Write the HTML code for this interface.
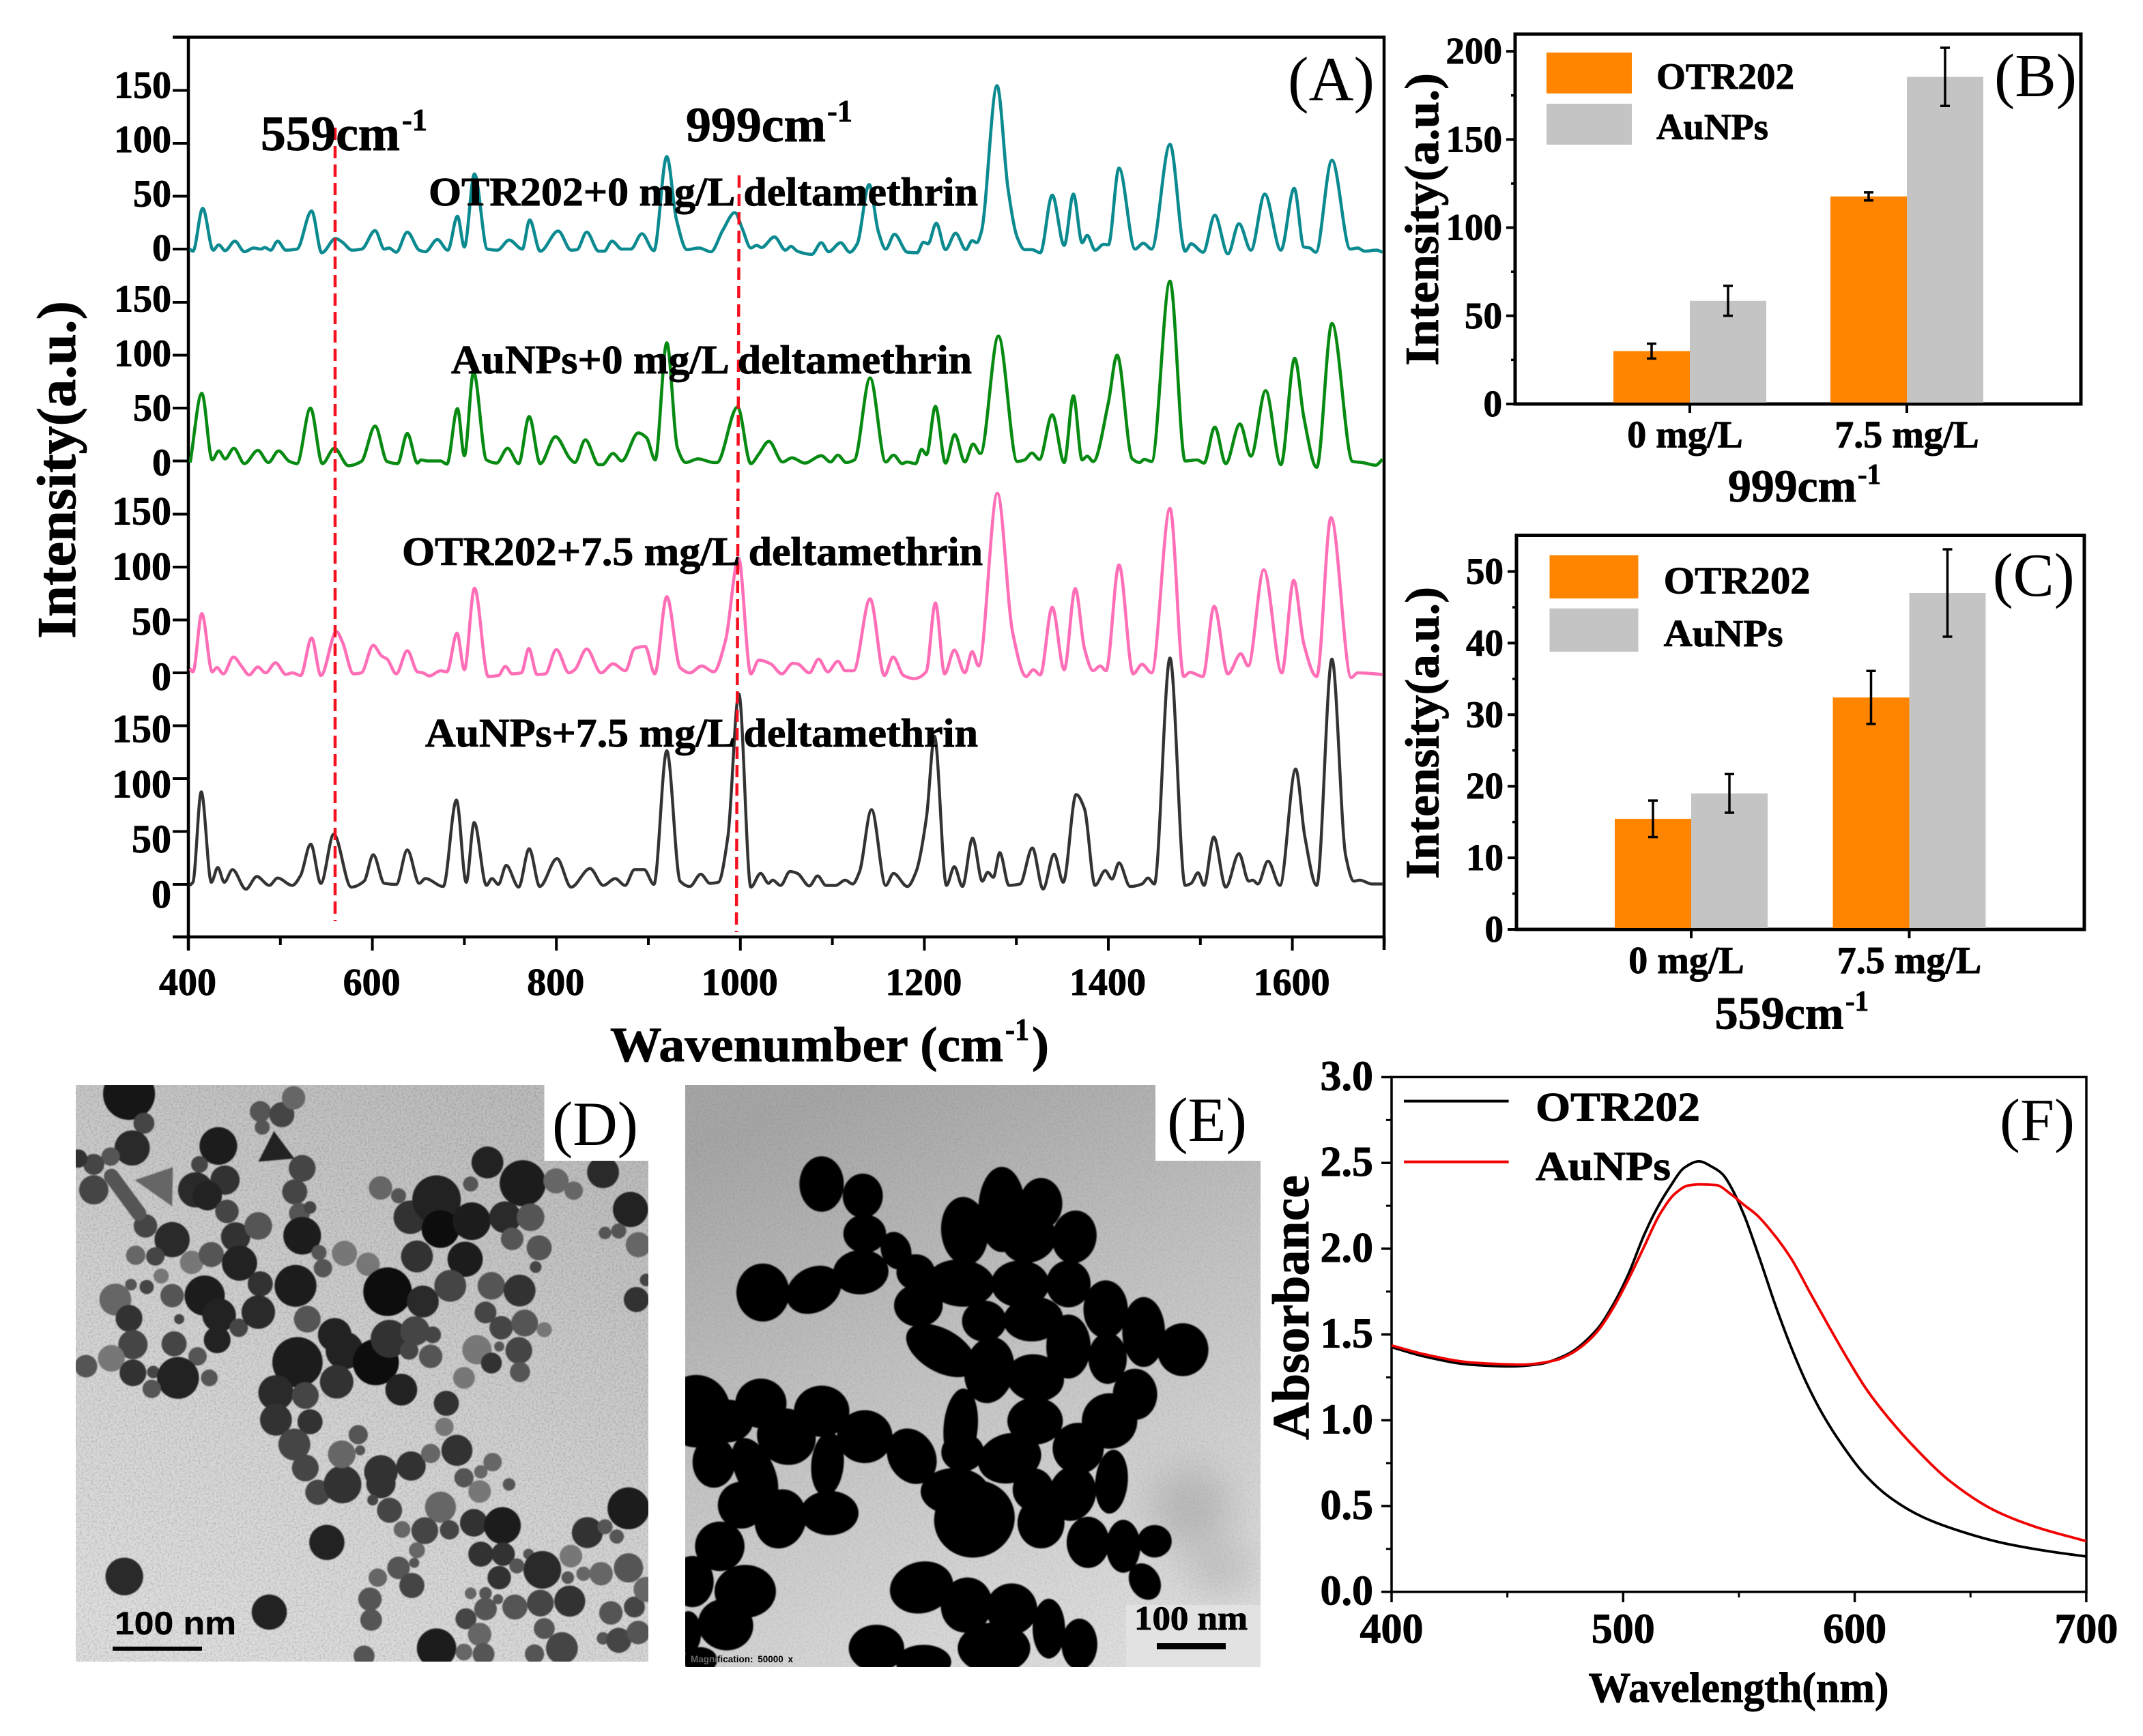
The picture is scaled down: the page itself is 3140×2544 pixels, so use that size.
<!DOCTYPE html>
<html lang="en">
<head>
<meta charset="utf-8">
<title>SERS spectra, intensity bars, TEM images and absorbance</title>
<style>
html,body{margin:0;padding:0;background:#fff;}
svg{display:block;}
text{font-family:"Liberation Serif","Noto Serif CJK SC",serif;fill:#000;}
.b{font-weight:bold;stroke:#000;stroke-width:0.9px;}
</style>
</head>
<body>
<svg id="fig" xmlns="http://www.w3.org/2000/svg" width="3140" height="2544" viewBox="0 0 3140 2544">
<defs>
<linearGradient id="bgD" x1="0.7" y1="0" x2="0.25" y2="1">
<stop offset="0" stop-color="#bcbcbc"/><stop offset="0.55" stop-color="#d2d2d2"/><stop offset="1" stop-color="#dedede"/>
</linearGradient>
<linearGradient id="bgE" x1="0.3" y1="0" x2="0.7" y2="1">
<stop offset="0" stop-color="#a6a6a6"/><stop offset="0.45" stop-color="#c2c2c2"/><stop offset="1" stop-color="#dedede"/>
</linearGradient>
<clipPath id="clipD"><path d="M111 1590H797.5V1701H950V2435H111Z"/></clipPath>
<clipPath id="clipE"><path d="M1004 1590H1693V1701H1847V2443H1004Z"/></clipPath>
<filter id="soft"><feGaussianBlur stdDeviation="1.6"/></filter>
<filter id="smudge" x="-200%" y="-200%" width="500%" height="500%"><feGaussianBlur stdDeviation="28"/></filter>
<filter id="grain" x="0" y="0" width="100%" height="100%">
<feTurbulence type="fractalNoise" baseFrequency="0.35" numOctaves="2" seed="4"/>
<feColorMatrix type="matrix" values="0 0 0 0 0  0 0 0 0 0  0 0 0 0 0  1.6 0 0 0 -0.65"/>
</filter>
</defs>

<!-- Panel D micrograph -->
<g clip-path="url(#clipD)">
<rect x="111" y="1590" width="839" height="845" fill="url(#bgD)"/>
<rect x="111" y="1590" width="839" height="845" filter="url(#grain)" opacity="0.2"/>
<g id="particlesDLayer" filter="url(#soft)"></g>
</g>
<rect x="165" y="2413" width="131" height="6" fill="#000"/>
<text class="b" x="168" y="2395" font-size="47" textLength="178" lengthAdjust="spacingAndGlyphs" style="font-family:'Liberation Sans',sans-serif;stroke-width:0.4px">100 nm</text>
<text x="809" y="1678" font-size="92" textLength="126" lengthAdjust="spacingAndGlyphs">(D)</text>

<!-- Panel E micrograph -->
<g clip-path="url(#clipE)">
<rect x="1004" y="1590" width="843" height="853" fill="url(#bgE)"/>
<rect x="1004" y="1590" width="843" height="853" filter="url(#grain)" opacity="0.1"/>
<ellipse cx="1745" cy="2210" rx="60" ry="60" fill="#8a8a8a" opacity="0.38" filter="url(#smudge)"/>
<ellipse cx="1790" cy="2300" rx="50" ry="35" fill="#8a8a8a" opacity="0.35" filter="url(#smudge)"/>
<g id="particlesELayer" filter="url(#soft)"></g>
<rect x="1650" y="2352" width="197" height="91" fill="#e2e2e2"/>
</g>
<rect x="1695" y="2408" width="101" height="9" fill="#000"/>
<text class="b" x="1662" y="2388" font-size="50" textLength="166" lengthAdjust="spacingAndGlyphs">100 nm</text>
<text x="1012" y="2436" font-size="13.5" style="font-family:'Liberation Sans',sans-serif;font-weight:bold;word-spacing:3px"><tspan style="fill:#6a6a6a">Magni</tspan>fication: 50000 x</text>
<text x="1710" y="1672" font-size="92" textLength="117" lengthAdjust="spacingAndGlyphs">(E)</text>

<!-- Panel A -->
<g id="panelA">
<g id="axesA"></g>
<g id="linesA"></g>
<line x1="491" y1="187" x2="491" y2="1350" stroke="#f5101f" stroke-width="4.5" stroke-dasharray="18 9"/>
<line x1="1083" y1="257" x2="1079" y2="1366" stroke="#f5101f" stroke-width="4.5" stroke-dasharray="18 9"/>
<text class="b" x="382" y="220" font-size="72" textLength="204" lengthAdjust="spacingAndGlyphs">559cm</text>
<text class="b" x="589" y="191" font-size="46" textLength="37" lengthAdjust="spacingAndGlyphs">-1</text>
<text class="b" x="1005" y="207" font-size="72" textLength="205" lengthAdjust="spacingAndGlyphs">999cm</text>
<text class="b" x="1212" y="178" font-size="46" textLength="37" lengthAdjust="spacingAndGlyphs">-1</text>
<text class="b" x="628" y="301" font-size="59" textLength="805" lengthAdjust="spacingAndGlyphs">OTR202+0 mg/L deltamethrin</text>
<text class="b" x="661" y="547" font-size="59" textLength="763" lengthAdjust="spacingAndGlyphs">AuNPs+0 mg/L deltamethrin</text>
<text class="b" x="589" y="828" font-size="59" textLength="851" lengthAdjust="spacingAndGlyphs">OTR202+7.5 mg/L deltamethrin</text>
<text class="b" x="623" y="1094" font-size="59" textLength="810" lengthAdjust="spacingAndGlyphs">AuNPs+7.5 mg/L deltamethrin</text>
<text x="1887" y="147" font-size="92" textLength="127" lengthAdjust="spacingAndGlyphs">(A)</text>
<text class="b" transform="translate(110,936) rotate(-90)" font-size="80" textLength="495" lengthAdjust="spacingAndGlyphs">Intensity(a.u.)</text>
<text class="b" x="894" y="1555" font-size="72" textLength="576" lengthAdjust="spacingAndGlyphs">Wavenumber (cm</text>
<text class="b" x="1473" y="1524" font-size="46" textLength="35" lengthAdjust="spacingAndGlyphs">-1</text>
<text class="b" x="1512" y="1555" font-size="72" textLength="25" lengthAdjust="spacingAndGlyphs">)</text>
</g>

<!-- Panel B -->
<g id="panelB">
<rect x="2266" y="77" width="125" height="60" fill="#ff8500"/>
<rect x="2266" y="152" width="125" height="60" fill="#c4c4c4"/>
<text class="b" x="2427" y="130" font-size="54" textLength="202" lengthAdjust="spacingAndGlyphs">OTR202</text>
<text class="b" x="2427" y="204" font-size="54" textLength="164" lengthAdjust="spacingAndGlyphs">AuNPs</text>
<text x="2922" y="141" font-size="90" textLength="121" lengthAdjust="spacingAndGlyphs">(B)</text>
<text class="b" transform="translate(2107,536) rotate(-90)" font-size="70" textLength="429" lengthAdjust="spacingAndGlyphs">Intensity(a.u.)</text>
<text class="b" x="2532" y="735" font-size="68" textLength="188" lengthAdjust="spacingAndGlyphs">999cm</text>
<text class="b" x="2722" y="709" font-size="42" textLength="34" lengthAdjust="spacingAndGlyphs">-1</text>
</g>

<!-- Panel C -->
<g id="panelC">
<rect x="2270.5" y="813.6" width="130" height="63.4" fill="#ff8500"/>
<rect x="2270.5" y="891.6" width="130" height="63.4" fill="#c4c4c4"/>
<text class="b" x="2437.6" y="869.7" font-size="56" textLength="215" lengthAdjust="spacingAndGlyphs">OTR202</text>
<text class="b" x="2437.6" y="947" font-size="56" textLength="175" lengthAdjust="spacingAndGlyphs">AuNPs</text>
<text x="2919.7" y="873" font-size="90" textLength="120" lengthAdjust="spacingAndGlyphs">(C)</text>
<text class="b" transform="translate(2107.6,1288) rotate(-90)" font-size="70" textLength="428" lengthAdjust="spacingAndGlyphs">Intensity(a.u.)</text>
<text class="b" x="2512.6" y="1507.5" font-size="68" textLength="189" lengthAdjust="spacingAndGlyphs">559cm</text>
<text class="b" x="2704" y="1481" font-size="42" textLength="34" lengthAdjust="spacingAndGlyphs">-1</text>
</g>

<!-- Panel F -->
<g id="panelF">
<line x1="2057" y1="1613.6" x2="2210.6" y2="1613.6" stroke="#000" stroke-width="4"/>
<line x1="2057" y1="1702.6" x2="2210.6" y2="1702.6" stroke="#f00000" stroke-width="4"/>
<text class="b" x="2250" y="1642.4" font-size="60" textLength="241" lengthAdjust="spacingAndGlyphs">OTR202</text>
<text class="b" x="2250" y="1729" font-size="60" textLength="198" lengthAdjust="spacingAndGlyphs">AuNPs</text>
<text x="2930" y="1671" font-size="88" textLength="110" lengthAdjust="spacingAndGlyphs">(F)</text>
<text class="b" transform="translate(1917,2110) rotate(-90)" font-size="76" textLength="388" lengthAdjust="spacingAndGlyphs">Absorbance</text>
<text class="b" x="2327.5" y="2494" font-size="62" textLength="440" lengthAdjust="spacingAndGlyphs">Wavelength(nm)</text>
</g>
</svg>

<script>
// ---------- Panel A data ----------
const xTicksA = [400, 600, 800, 1000, 1200, 1400, 1600];
const xMinorTicksA = [500, 700, 900, 1100, 1300, 1500, 1700];
const yTicksA = [0, 50, 100, 150];

const tealWavenumber = [401.5,405,415.6,427,433,440,450.5,461,471,479,483,489.5,497,506,518,534,545,560,567.5,578,588.4,603,613,618,626,638,651,657.6,670.6,682,692.5,700,711,725,736,748.7,763,771,782.5,802,816,822.5,833,846,852,860.5,871,881,893,906,920,930.5,942,955,968,981,994,1002,1011.4,1017.7,1023,1037,1049,1055,1062,1077.5,1088,1096,1109,1119,1127,1140,1150,1158,1167.5,1181.6,1192,1199,1204,1213,1223,1234,1245,1252,1257,1262,1279,1291,1301,1309,1317,1326,1339,1352,1362,1371.5,1377,1385.6,1395,1400,1411.6,1429,1438,1447,1467,1483.5,1490,1503,1515.7,1530,1542,1555,1570,1587.5,1602,1612.5,1619,1625.5,1643,1663,1671,1678.6,1691.5,1698];
const tealIntensity = [0,-2,38.5,-1,4,-1.5,7.5,-2.5,1,0,1.5,-1,7.5,-1,0,36,-3.5,10,6.5,-1,0,17.5,0,1,-3,16,-1,-2.5,9,-1,31,2,71,0,-1,8.5,0,27.5,-2,17,-1,-0.5,16,-2,-2,7.5,0,0,14.5,-1.5,87.5,28,-0.5,1,-2.5,18,34.5,19.5,1,3.5,1.5,11.5,-1,2.5,-2,-5,6,-2.5,6,-3,5,61,16.5,0,14,-3,-3.5,6.5,5,24.5,-0.5,15,-0.5,8,6,16.5,154.5,56.5,11,-0.5,-0.5,-3.5,51,3.5,52,6,13,-1,4.5,4,76.5,0,5.5,0,99,-2,5,-3,32,-4.5,24,-1,52,-1,57.5,2,1,-3,84,0,1,-2,-1,-3];

const greenWavenumber = [402,414.6,426,433,440,449.4,461,475.5,487,498,510,518,532.7,545.7,558.7,574,588,603,616,627.4,638,649,653,660,674,681,692.5,700,710,724,735,747,759,770.5,782.5,799,815,820,831.5,846,850,861.6,871,889,898,907.4,920,931.7,940.7,954,971,974.5,997,1011.4,1020,1031,1046,1056,1070,1088,1098,1106,1115,1124,1141,1158,1166.5,1176,1181,1190.5,1197,1202.4,1212,1223,1233,1244,1253,1261,1280.5,1301,1309,1317,1325,1339,1352,1362,1371.5,1377,1383.5,1400,1409.5,1426,1434,1439,1447,1467,1483.5,1496.4,1504,1515.7,1527.6,1543,1555,1571,1587.5,1602.6,1612.5,1626.5,1643,1665.5,1676,1690.5,1698];
const greenIntensity = [-1.5,64,1,9.5,2,12,-2.5,10,-1.5,9.5,-0.5,-2.5,50,-2.5,12,-4.5,-0.5,33,-0.5,-2.5,26,-2,1,0,0,-3,49.5,5,84,1,-2,12,-2.5,42,-2.5,23,2,-1.5,20,-3.5,-3.5,7,0,26.5,22,1,111.7,12,-1.5,2,-1.5,-1.5,51,-2.5,6.5,18.5,-1,3,-2,5,-1,5.5,-1.5,1,78.5,-1,5.5,-2.5,-1,-2.5,11,6,51.7,-2,25,-1,16,7,118,-0.5,1,7.5,1.5,43.7,-1.5,61.5,1,4.5,-0.5,55,100,2,-1.5,1.5,-0.5,170,0,1,-2,32,-2.5,35,4.5,66.5,-3.5,97,41,-6,130,-0.5,-1.5,-4,1.5];

const pinkWavenumber = [401.5,405,414.6,426,431,438,449,458,466,475.5,484,494.7,506,513,522,534,544,561,567.5,579.5,588,601,610,616,626,638,649,655,662,674,681,692,700,711,726,737,744.5,752,762,770,779,788,800,813.7,820,833,848.6,861.6,875,885,896.5,907,920,934.5,945,958,971,984,998,1011.4,1020,1033,1045,1057,1062,1075,1085,1095,1106,1114,1123,1141,1156.6,1166,1177.4,1189,1202,1212,1222,1232.6,1244,1252,1259,1279.4,1296,1310.6,1318.5,1326,1339,1352,1364,1374,1383.5,1391,1397.5,1411.6,1427,1436.6,1447,1467,1482,1488.6,1502.7,1515,1530,1544,1552,1569,1588.5,1601.5,1612.5,1626.5,1642,1664,1671,1698];
const pinkIntensity = [4,1,56,1,5,-1,15,6,-2,5.5,0,9.5,-1.5,0,-2.5,33,-2.5,39,29,-1,0,26,16,13,-1,21,1,0,-3,2,1,37.5,3,80,-3.5,-2.5,6,-1,0,23,-1.5,-1,22,0,3,22.5,0,8.5,2,23,25,-1,72,5,0,6.5,1,31,108.5,-1,12,8.5,-1,9,8.5,0,13,1,11,2,2,70,-2.5,15,-2.5,-5.5,1,66,-1,21.5,0,20,6.5,169.6,38,-3.5,3,-2,62,3,79.6,23,2,6.5,2,102,-1,8,0,155.5,-3.5,0.5,-3.5,63,-1,18,6.5,97.4,0,87.5,27,-3.5,146.7,-4.5,0,-1.5];

const darkWavenumber = [401.5,405,414,425,432,439,448,462.5,474.4,488,497,513,522,533,544,558,577,591,601,613,626,638,651,657.6,677,691.4,702,710.7,724,730,737,745.5,759,770.5,782,800.7,816,836.6,851,864,874.6,885,895.4,906,920,934.5,945,957,967,976,986.5,998.4,1011.4,1022,1030.7,1035,1043.7,1054,1062,1075,1084,1093,1103.5,1114,1122,1129.5,1142.6,1158,1166.5,1181.6,1191,1202.4,1211,1224,1232.6,1241.4,1252.4,1263,1269,1275,1282,1292,1304,1317.4,1329,1341,1351,1365,1374,1385.6,1396.5,1404,1411.6,1423.6,1436.6,1443,1450,1467,1483.5,1490,1497.5,1504,1514.6,1527.6,1542,1552.6,1557,1562.5,1573.5,1586.5,1603.6,1613.5,1626.5,1643,1658,1667,1673.4,1686.4,1698];
const darkIntensity = [-1,2,87.4,2,16,2,14,-4.5,7.4,-1,6,-1,8.5,38,1,47.4,-2.6,3,28,1,0,32.6,1,5.5,-2,79.6,2,58.5,-1,5.5,0,18,-2.6,33.7,-2,24.4,-2.6,15,-1,5.5,-1,14,14,0,126.3,3,-2,9.6,1,2,45.5,180,-2.6,10.4,1,4,-1,12.2,10.4,-1.5,8,-1,-1,4,0.4,12,70.7,-1,10.4,-2,12,64,140,-1,16.7,-2,43.7,3,11.5,6.7,30,-1,0.4,34.4,-4.4,28.5,2,85,71.5,-1,13,5,20.4,-2,0.4,6,0.4,214,-1,1,11,-1,44.8,-2.6,29,3,4,0.4,22,-1,109,45.5,-1,213,27,3,4,0.4,0.4];

// ---------- Panel B / C data ----------
const barCategories = ['0 mg/L', '7.5 mg/L'];
const otr999 = [30, 117.7];
const otr999Err = [4.2, 2.3];
const au999 = [58.5, 185.5];
const au999Err = [8.5, 16.5];
const yTicksB = [0, 50, 100, 150, 200];
const yMinorTicksB = [25, 75, 125, 175];

const otr559 = [15.45, 32.4];
const otr559Err = [2.55, 3.7];
const au559 = [19, 47];
const au559Err = [2.7, 6.1];
const yTicksC = [0, 10, 20, 30, 40, 50];
const yMinorTicksC = [5, 15, 25, 35, 45];

// ---------- Panel F data ----------
const xTicksF = [400, 500, 600, 700];
const xMinorTicksF = [450, 550, 650];
const yTicksF = [0, 0.5, 1, 1.5, 2, 2.5, 3];
const yMinorTicksF = [0.25, 0.75, 1.25, 1.75, 2.25, 2.75];
const otrWavelength = [400,414.7,434.2,451.3,463.5,475.7,488.7,495.5,502.2,509,514.4,519.8,526.6,532.7,538.8,542.8,546.9,552.3,559,565.8,572.6,579.4,586.1,594.3,603.7,614.6,629.5,644.3,664.6,684.9,700];
const otrAbsorbance = [1.426,1.37,1.324,1.314,1.327,1.383,1.53,1.67,1.85,2.078,2.23,2.352,2.474,2.509,2.474,2.436,2.352,2.193,1.94,1.668,1.424,1.211,1.036,0.861,0.693,0.556,0.435,0.359,0.283,0.234,0.206];
const auWavelength = [400,414.7,434.2,456.2,470.9,477,483,488.7,495.5,502.2,509,515.8,522.5,528,532.7,540.1,546.9,552.3,557.7,565.8,572.6,580.7,588.9,597,605.1,614.6,626.7,641.6,660.6,678.2,700];
const auAbsorbance = [1.436,1.383,1.337,1.324,1.35,1.385,1.44,1.515,1.65,1.82,2.01,2.2,2.322,2.368,2.375,2.371,2.314,2.254,2.197,2.071,1.942,1.744,1.546,1.356,1.18,1.013,0.83,0.64,0.473,0.378,0.295];

// ---------- Micrograph particles (image texture, zoom-space coordinates) ----------
const particlesD = [[190,75,62,'#151515'],[228,150,25,'#444'],[198,213,42,'#2a2a2a'],[143,235,22,'#555'],[100,255,25,'#444'],[60,240,22,'#333'],[100,320,35,'#444'],[418,208,45,'#1c1c1c'],[370,255,20,'#444'],[525,120,25,'#555'],[580,128,30,'#444'],[610,85,28,'#666'],[530,160,18,'#555'],[632,265,32,'#444'],[613,325,30,'#444'],[435,295,35,'#333'],[360,320,42,'#2a2a2a'],[390,335,35,'#222'],[440,375,28,'#444'],[625,380,25,'#555'],[652,365,15,'#444'],[232,412,28,'#444'],[300,447,42,'#2a2a2a'],[207,487,23,'#666'],[257,490,22,'#444'],[350,505,28,'#777'],[400,485,30,'#555'],[462,440,35,'#333'],[520,412,33,'#555'],[632,437,45,'#1e1e1e'],[472,507,42,'#222'],[675,480,18,'#555'],[740,482,30,'#777'],[685,520,22,'#555'],[800,510,28,'#777'],[615,565,50,'#1c1c1c'],[525,560,30,'#333'],[383,590,48,'#1e1e1e'],[300,590,28,'#555'],[235,568,17,'#444'],[272,540,18,'#777'],[195,562,14,'#555'],[155,600,38,'#666'],[190,648,32,'#333'],[420,640,40,'#222'],[470,672,22,'#444'],[520,632,40,'#2a2a2a'],[318,650,12,'#444'],[200,715,35,'#444'],[305,713,30,'#444'],[415,703,32,'#222'],[365,745,22,'#555'],[145,750,32,'#777'],[80,770,27,'#555'],[200,787,32,'#333'],[252,785,15,'#444'],[315,800,50,'#222'],[248,828,22,'#555'],[395,800,20,'#555'],[645,650,32,'#555'],[850,580,58,'#111'],[940,605,38,'#2a2a2a'],[715,690,40,'#222'],[740,730,45,'#222'],[620,760,60,'#1a1a1a'],[820,760,55,'#111'],[855,700,45,'#333'],[920,680,35,'#444'],[965,690,20,'#444'],[905,730,22,'#444'],[960,745,28,'#555'],[885,830,38,'#222'],[720,810,40,'#333'],[565,838,42,'#2a2a2a'],[640,845,32,'#444'],[565,907,38,'#333'],[652,912,30,'#333'],[612,970,38,'#444'],[640,1030,32,'#444'],[672,1092,30,'#444'],[735,1072,45,'#333'],[832,315,28,'#666'],[878,335,18,'#555'],[908,390,40,'#333'],[975,345,58,'#222'],[985,420,45,'#111'],[1065,400,45,'#1a1a1a'],[1062,305,18,'#555'],[1105,250,38,'#222'],[1195,303,55,'#1a1a1a'],[1150,390,38,'#2a2a2a'],[1215,390,33,'#555'],[1168,445,27,'#555'],[1237,468,30,'#555'],[1228,517,14,'#444'],[925,490,38,'#333'],[1048,497,42,'#1e1e1e'],[1010,565,38,'#444'],[1115,565,33,'#555'],[1187,577,38,'#333'],[1100,633,26,'#444'],[1140,672,28,'#444'],[1200,660,32,'#555'],[1250,677,18,'#777'],[1078,728,35,'#777'],[1115,762,25,'#333'],[1185,730,32,'#444'],[1188,785,24,'#555'],[1045,800,26,'#777'],[1135,720,12,'#555'],[1280,297,30,'#666'],[1325,322,22,'#666'],[1400,275,38,'#2a2a2a'],[1470,370,42,'#222'],[1405,430,15,'#555'],[1440,425,18,'#555'],[1490,460,30,'#666'],[1485,600,30,'#333'],[1510,550,15,'#444'],[1000,865,30,'#333'],[995,925,22,'#777'],[775,945,23,'#555'],[733,995,33,'#666'],[780,985,12,'#555'],[833,1040,40,'#333'],[833,1070,35,'#333'],[910,1025,35,'#333'],[960,993,23,'#666'],[1027,985,37,'#333'],[1045,1055,23,'#555'],[1088,1040,16,'#666'],[1118,1015,22,'#666'],[1085,1090,27,'#777'],[1160,1072,15,'#555'],[812,1112,13,'#444'],[855,1138,30,'#444'],[985,1130,37,'#666'],[1070,1170,33,'#333'],[1143,1177,44,'#1a1a1a'],[945,1190,32,'#444'],[1008,1188,23,'#444'],[887,1187,20,'#666'],[925,1240,19,'#666'],[695,1220,42,'#222'],[178,1307,45,'#2a2a2a'],[548,1398,42,'#222'],[1465,1133,50,'#1c1c1c'],[1360,1195,37,'#333'],[1405,1180,18,'#555'],[1435,1205,17,'#555'],[1088,1250,30,'#333'],[1145,1250,28,'#333'],[1210,1250,13,'#555'],[1245,1290,45,'#2a2a2a'],[1180,1280,18,'#555'],[1318,1255,27,'#777'],[1395,1300,28,'#666'],[1465,1285,35,'#555'],[1350,1300,17,'#666'],[1135,1310,28,'#333'],[1310,1310,15,'#555'],[878,1285,27,'#555'],[918,1272,12,'#555'],[825,1310,22,'#666'],[912,1330,30,'#444'],[805,1365,28,'#555'],[808,1418,26,'#555'],[1062,1350,14,'#666'],[1100,1350,15,'#555'],[1132,1365,12,'#555'],[1100,1390,27,'#555'],[1175,1385,30,'#555'],[1240,1375,32,'#444'],[1315,1370,37,'#333'],[1420,1400,28,'#555'],[1480,1385,25,'#444'],[1050,1415,25,'#444'],[1085,1455,28,'#666'],[1250,1440,25,'#555'],[975,1490,47,'#1e1e1e'],[1045,1500,20,'#666'],[1095,1505,26,'#555'],[790,1510,25,'#555'],[1295,1490,38,'#444'],[1225,1505,23,'#555'],[1400,1465,15,'#555'],[1440,1470,30,'#444'],[1490,1450,28,'#555'],[1510,1340,30,'#666']];
const particlesE = [[390,305,52,65,0],[495,335,47,52,0],[500,432,50,45,0],[490,530,65,52,-5],[240,582,62,68,0],[370,575,68,52,-30],[580,475,35,45,-20],[630,530,45,42,0],[745,558,80,55,5],[637,615,57,50,0],[755,425,55,80,-5],[850,370,55,100,0],[950,355,50,60,0],[920,445,65,55,-20],[1035,440,52,62,10],[897,560,68,55,0],[1020,560,52,55,0],[805,655,52,48,0],[930,650,70,52,-5],[1115,625,52,68,0],[1020,720,52,75,0],[1212,683,50,82,0],[1120,750,45,60,0],[1312,728,60,62,0],[695,730,90,50,30],[818,780,58,78,10],[935,800,68,55,10],[1190,842,52,60,0],[1125,910,65,65,20],[935,910,65,55,0],[745,925,40,90,5],[870,1005,75,58,-15],[1045,980,60,60,0],[1130,1065,38,75,5],[750,990,50,45,0],[930,1085,48,50,0],[1030,1095,55,65,15],[730,1090,80,55,0],[780,1160,95,90,-20],[950,1170,55,60,0],[1070,1220,50,60,0],[1160,1230,40,62,0],[1240,1217,40,38,0],[1215,1320,35,45,-30],[70,885,80,85,0],[150,910,60,50,0],[235,865,60,58,0],[300,950,70,65,30],[390,885,65,60,0],[115,1015,50,60,0],[220,1040,45,85,-25],[405,1020,38,75,5],[500,950,65,62,0],[620,1000,55,68,-30],[185,1125,55,55,0],[285,1160,60,70,15],[410,1145,68,52,0],[130,1230,58,58,0],[195,1345,72,62,0],[60,1320,50,60,0],[145,1430,65,60,15],[50,1450,30,50,0],[80,1520,40,30,0],[645,1335,75,60,-15],[760,1380,60,65,15],[875,1390,60,60,0],[970,1440,38,70,0],[1048,1480,42,60,0],[830,1490,85,60,0],[530,1490,65,55,0],[650,1525,65,40,0]];

// ---------- Helpers ----------
const NS = 'http://www.w3.org/2000/svg';
function make(parent, tag, attrs, content) {
  const el = document.createElementNS(NS, tag);
  for (const k in attrs) el.setAttribute(k, attrs[k]);
  if (content !== undefined) el.textContent = content;
  parent.appendChild(el);
  return el;
}
// Monotone cubic through the read points, so peaks stay at their read height.
function curvePath(xs, ys) {
  const n = Math.min(xs.length, ys.length);
  const dx = [], m = [], t = [];
  for (let i = 0; i < n - 1; i++) { dx[i] = xs[i+1] - xs[i]; m[i] = (ys[i+1] - ys[i]) / dx[i]; }
  t[0] = m[0]; t[n-1] = m[n-2];
  for (let i = 1; i < n - 1; i++) {
    if (m[i-1] * m[i] <= 0) t[i] = 0;
    else {
      const a = dx[i-1] + 2 * dx[i], b = 2 * dx[i-1] + dx[i];
      t[i] = (a + b) / (a / m[i-1] + b / m[i]);
    }
  }
  let d = 'M' + xs[0].toFixed(1) + ' ' + ys[0].toFixed(1);
  for (let i = 0; i < n - 1; i++) {
    const h = dx[i] / 3;
    d += 'C' + (xs[i] + h).toFixed(1) + ' ' + (ys[i] + t[i] * h).toFixed(1) + ' ' +
         (xs[i+1] - h).toFixed(1) + ' ' + (ys[i+1] - t[i+1] * h).toFixed(1) + ' ' +
         xs[i+1].toFixed(1) + ' ' + ys[i+1].toFixed(1);
  }
  return d;
}

// ---------- Panel A ----------
const axesA = document.getElementById('axesA');
const linesA = document.getElementById('linesA');
function xA(w) { return 276 + (w - 400) * 1.348; }
const zeroA = [365, 675.5, 986, 1296];
const labelShiftA = [[17, 0.04], [21, 0.05], [25, 0.067], [34, 0.067]];
function yA(row, v) { return zeroA[row] - v * 1.55; }

const frameA = make(axesA, 'path', {d: 'M253 54.5H2028V1373H253M276 54.5V1392M2028 54.5V1392', fill: 'none', stroke: '#000', 'stroke-width': 4.5});



xTicksA.forEach(function (w) {
  const tick = make(axesA, 'line', {x1: xA(w), x2: xA(w), y1: 1373, y2: 1393, stroke: '#000', 'stroke-width': 4});
  
  
  const label = make(axesA, 'text', {class: 'b', x: xA(w) - 1, y: 1458, 'font-size': 56, 'text-anchor': 'middle'}, String(w));
  
  
});
xMinorTicksA.forEach(function (w) {
  const tick = make(axesA, 'line', {x1: xA(w), x2: xA(w), y1: 1373, y2: 1385, stroke: '#000', 'stroke-width': 4});
  
  
});
zeroA.forEach(function (z, row) {
  yTicksA.forEach(function (v) {
    const tick = make(axesA, 'line', {x1: 253, x2: 276, y1: yA(row, v), y2: yA(row, v), stroke: '#000', 'stroke-width': 4});
    
    
    const baseline = yA(row, v) + labelShiftA[row][0] - v * labelShiftA[row][1];
    const label = make(axesA, 'text', {class: 'b', x: 251, y: baseline, 'font-size': row < 2 ? 56 : 58, 'text-anchor': 'end'}, String(v));
    
    
  });
});

function drawSpectrum(row, wn, values, colour, width, name) {
  const path = make(linesA, 'path', {
    d: curvePath(wn.map(xA), values.map(function (v) { return yA(row, v); })),
    fill: 'none', stroke: colour, 'stroke-width': width, 'stroke-linejoin': 'round'
  });
  
  
}
drawSpectrum(0, tealWavenumber, tealIntensity, '#0b8a90', 4.6, 'spectrum-otr-0');
drawSpectrum(1, greenWavenumber, greenIntensity, '#078a12', 4.6, 'spectrum-au-0');
drawSpectrum(2, pinkWavenumber, pinkIntensity, '#ff6fb8', 4.6, 'spectrum-otr-7-5');
drawSpectrum(3, darkWavenumber, darkIntensity, '#333333', 4.4, 'spectrum-au-7-5');

// ---------- Bar panels ----------
function drawBars(opts) {
  const host = opts.host;
  const frame = make(host, 'path', {d: 'M' + opts.left + ' ' + opts.top + 'H' + opts.right + 'V' + opts.bottom + 'H' + opts.left + 'Z', fill: 'none', stroke: '#000', 'stroke-width': 5});
  
  
  const yOf = function (v) { return opts.bottom - v * opts.unit; };
  const xOf = function (i) { return opts.firstCentre + i * opts.step; };
  barCategories.forEach(function (cat, i) {
    const cx = xOf(i);
    [[opts.otr, opts.otrErr, -opts.barW, '#ff8500', 'otr'], [opts.au, opts.auErr, 0, '#c4c4c4', 'au']].forEach(function (s) {
      const top = yOf(s[0][i]);
      const bar = make(host, 'rect', {x: cx + s[2], y: top, width: opts.barW, height: opts.bottom - top - 2, fill: s[3]});
      
      
      const ex = cx + s[2] + opts.barW / 2;
      const hi = yOf(s[0][i] + s[1][i]), lo = yOf(s[0][i] - s[1][i]);
      const err = make(host, 'path', {d: 'M' + ex + ' ' + hi + 'V' + lo + 'M' + (ex - 7) + ' ' + hi + 'H' + (ex + 7) + 'M' + (ex - 7) + ' ' + lo + 'H' + (ex + 7), fill: 'none', stroke: '#000', 'stroke-width': 3.5});
      
      
    });
    const tick = make(host, 'line', {x1: cx, x2: cx, y1: opts.bottom, y2: opts.bottom + 13, stroke: '#000', 'stroke-width': 4});
    
    
    const label = make(host, 'text', {class: 'b', x: cx - 7 + 7 * i, y: opts.labelY, 'font-size': 56, 'text-anchor': 'middle'}, cat);
    
    
  });
  opts.yTicks.forEach(function (v) {
    const tick = make(host, 'line', {x1: opts.left - 13, x2: opts.left, y1: yOf(v), y2: yOf(v), stroke: '#000', 'stroke-width': 4});
    
    
    const label = make(host, 'text', {class: 'b', x: opts.left - 19, y: yOf(v) + 18, 'font-size': 55, 'text-anchor': 'end'}, String(v));
    
    
  });
  opts.yMinor.forEach(function (v) {
    const tick = make(host, 'line', {x1: opts.left - 6, x2: opts.left, y1: yOf(v), y2: yOf(v), stroke: '#000', 'stroke-width': 3.5});
    
    
  });
}
drawBars({host: document.getElementById('panelB'), tag: 'panel-b', left: 2220, right: 3049, top: 50, bottom: 592, unit: 2.584, firstCentre: 2476, step: 318, barW: 112, otr: otr999, otrErr: otr999Err, au: au999, auErr: au999Err, yTicks: yTicksB, yMinor: yMinorTicksB, labelY: 655.6});
drawBars({host: document.getElementById('panelC'), tag: 'panel-c', left: 2222, right: 3054, top: 784.5, bottom: 1362, unit: 10.49, firstCentre: 2478, step: 319.5, barW: 112, otr: otr559, otrErr: otr559Err, au: au559, auErr: au559Err, yTicks: yTicksC, yMinor: yMinorTicksC, labelY: 1426});

// ---------- Panel F ----------
const panelF = document.getElementById('panelF');
function xF(w) { return 2039 + (w - 400) * 3.393; }
function yF(a) { return 2332.7 - a * 251.4; }
const frameF = make(panelF, 'rect', {x: 2039, y: 1578.4, width: 1018, height: 754.3, fill: 'none', stroke: '#000', 'stroke-width': 3.5});


xTicksF.forEach(function (w) {
  const tick = make(panelF, 'line', {x1: xF(w), x2: xF(w), y1: 2332.7, y2: 2348, stroke: '#000', 'stroke-width': 3.5});
  
  
  const label = make(panelF, 'text', {class: 'b', x: xF(w), y: 2407.6, 'font-size': 62, 'text-anchor': 'middle'}, String(w));
  
  
});
xMinorTicksF.forEach(function (w) {
  const tick = make(panelF, 'line', {x1: xF(w), x2: xF(w), y1: 2332.7, y2: 2341, stroke: '#000', 'stroke-width': 3});
  
  
});
yTicksF.forEach(function (a) {
  const tick = make(panelF, 'line', {x1: 2024, x2: 2039, y1: yF(a), y2: yF(a), stroke: '#000', 'stroke-width': 3.5});
  
  
  const label = make(panelF, 'text', {class: 'b', x: 2012, y: yF(a) + 19, 'font-size': 62, 'text-anchor': 'end'}, a.toFixed(1));
  
  
});
yMinorTicksF.forEach(function (a) {
  const tick = make(panelF, 'line', {x1: 2031, x2: 2039, y1: yF(a), y2: yF(a), stroke: '#000', 'stroke-width': 3});
  
  
});
const curveOtr = make(panelF, 'path', {d: curvePath(otrWavelength.map(xF), otrAbsorbance.map(yF)), fill: 'none', stroke: '#000', 'stroke-width': 3.8});


const curveAu = make(panelF, 'path', {d: curvePath(auWavelength.map(xF), auAbsorbance.map(yF)), fill: 'none', stroke: '#f00000', 'stroke-width': 3.8});



// ---------- Micrographs ----------
const layerD = document.getElementById('particlesDLayer');
layerD.setAttribute('transform', 'translate(80,1560) scale(0.574)');
particlesD.forEach(function (p) {
  const c = make(layerD, 'circle', {cx: p[0], cy: p[1], r: p[2] * 1.07, fill: p[3]});
  
  
});
const triangleA = make(layerD, 'polygon', {points: '205,295 302,262 300,362', fill: '#666'});


const triangleB = make(layerD, 'polygon', {points: '520,248 560,170 612,240', fill: '#222'});


const rod = make(layerD, 'line', {x1: 145, y1: 285, x2: 215, y2: 380, stroke: '#555', 'stroke-width': 38, 'stroke-linecap': 'round'});



const layerE = document.getElementById('particlesELayer');
layerE.setAttribute('transform', 'translate(980,1560) scale(0.574)');
particlesE.forEach(function (p) {
  const e = make(layerE, 'ellipse', {cx: p[0], cy: p[1], rx: p[2] * 1.09, ry: p[3] * 1.09, fill: '#040404', transform: 'rotate(' + p[4] + ' ' + p[0] + ' ' + p[1] + ')'});
  
  
});
</script>
</body>
</html>
